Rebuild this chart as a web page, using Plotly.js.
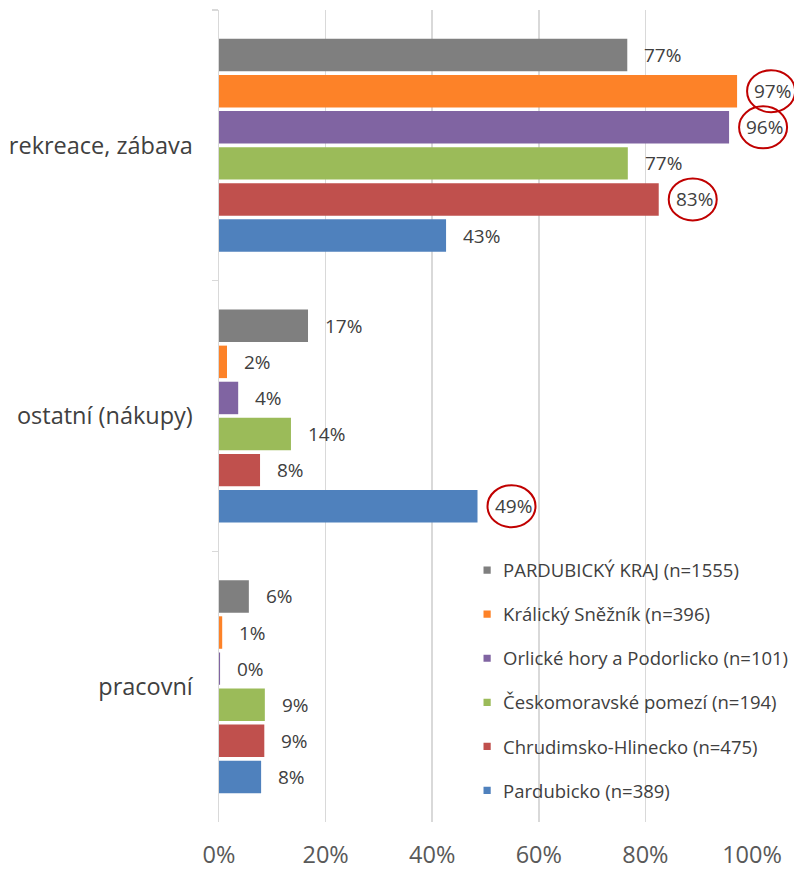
<!DOCTYPE html>
<html><head><meta charset="utf-8">
<script src="https://cdn.plot.ly/plotly-3.0.1.min.js"></script>
<style>
body{margin:0;background:#fff}#chart{width:794px;height:869px}
#chart .legend .legendpoints path{transform:translate(24px,0) scale(0.6)}
</style>
</head><body><div id="chart"></div>
<script>
const categories = ["rekreace, zábava", "ostatní (nákupy)", "pracovní"];
const seriesNames = ["PARDUBICKÝ KRAJ (n=1555)", "Králický Sněžník (n=396)", "Orlické hory a Podorlicko (n=101)", "Českomoravské pomezí (n=194)", "Chrudimsko-Hlinecko (n=475)", "Pardubicko (n=389)"];
const seriesColors = ["#7f7f7f", "#fd8228", "#8064a2", "#9bbb59", "#c0504d", "#4f81bd"];
const pardubickyKraj = [76.6, 16.7, 5.6];
const kralickySneznik = [97.2, 1.5, 0.6];
const orlickeHory = [95.7, 3.6, 0.2];
const ceskomoravske = [76.7, 13.5, 8.6];
const chrudimsko = [82.5, 7.7, 8.5];
const pardubicko = [42.6, 48.5, 7.9];
const seriesValues = [pardubickyKraj, kralickySneznik, orlickeHory, ceskomoravske, chrudimsko, pardubicko];
// [category index, series index] of circled labels
const highlighted = [[0, 1], [0, 2], [0, 4], [1, 5]];

const FONT = '"Open Sans", sans-serif';
const xRange = [0, 100];
const bargap = 0.2, nS = seriesNames.length, nC = categories.length;
const slot = (1 - bargap) / nS;
const pos = (c, s) => c - (1 - bargap) / 2 + slot * (s + 0.5);

const traces = seriesNames.map((name, s) => ({
  type: 'bar', orientation: 'h', name: name,
  y: categories, x: seriesValues[s],
  marker: {color: seriesColors[s]},
  legendgroup: 'g' + s, hoverinfo: 'skip'
}));

const annotations = [];
seriesValues.forEach((vals, s) => vals.forEach((v, c) => {
  annotations.push({
    x: v, y: pos(c, s), xref: 'x', yref: 'y', xanchor: 'left', yanchor: 'middle',
    xshift: 15, text: Math.round(v) + '%', showarrow: false,
    font: {size: 19, color: '#404040', family: FONT}
  });
}));

const shapes = highlighted.map(([c, s]) => ({
  type: 'circle', xref: 'paper', yref: 'paper',
  xsizemode: 'pixel', ysizemode: 'pixel',
  xanchor: (seriesValues[s][c] - xRange[0]) / (xRange[1] - xRange[0]),
  yanchor: 1 - (pos(c, s) + 0.5) / nC,
  x0: 10, x1: 58, y0: -21, y1: 21,
  line: {color: '#c00000', width: 2}
}));

const layout = {
  width: 794, height: 869,
  margin: {l: 219, r: 42, t: 10, b: 47, autoexpand: false},
  paper_bgcolor: '#fff', plot_bgcolor: '#fff',
  font: {family: FONT, color: '#404040'},
  barmode: 'group', bargap: bargap, bargroupgap: 0.1,
  xaxis: {
    range: xRange, dtick: 20, ticksuffix: '%', showgrid: true,
    gridcolor: '#d9d9d9', gridwidth: 1.5, zeroline: false, showline: false,
    ticks: '', tickfont: {size: 23.5, color: '#595959', family: FONT}, ticklabelstandoff: 16
  },
  yaxis: {
    type: 'category', autorange: 'reversed', showline: true, linecolor: '#d9d9d9', linewidth: 1.5,
    ticks: 'outside', tickson: 'boundaries', ticklen: 6, tickcolor: '#d9d9d9', tickwidth: 1.5,
    tickfont: {size: 23.5, color: '#404040', family: FONT}, ticklabelstandoff: 20, showgrid: false
  },
  legend: {
    x: 0.458, y: 0.333, xanchor: 'left', yanchor: 'top', bgcolor: 'rgba(0,0,0,0)',
    font: {size: 18.5, color: '#404040', family: FONT}, traceorder: 'grouped', tracegroupgap: 17,
    itemwidth: 30
  },
  annotations: annotations, shapes: shapes, showlegend: true
};
Plotly.newPlot('chart', traces, layout, {displayModeBar: false, staticPlot: true});
</script></body></html>
